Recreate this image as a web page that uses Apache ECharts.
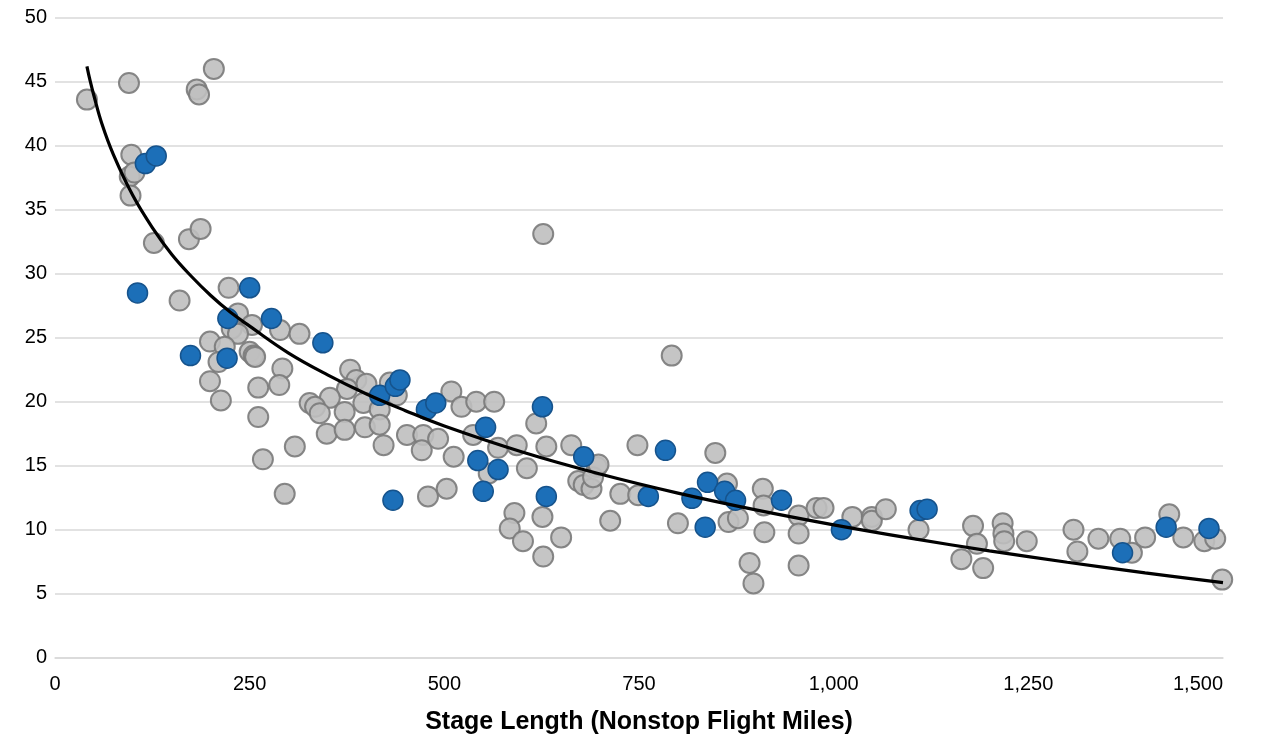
<!DOCTYPE html>
<html>
<head>
<meta charset="utf-8">
<script src="https://cdn.jsdelivr.net/npm/echarts@6/dist/echarts.min.js"></script>
<style>
html,body{margin:0;padding:0;background:#fff;}
#chart{width:1264px;height:738px;}
</style>
</head>
<body>
<div id="chart"></div>
<script>
// Other routes (gray)
const otherRoutes = [
[41,43.6],[95,44.9],[204,46.0],[182,44.4],[185,44.0],
[98,39.3],[96,37.6],[102,37.9],[97,36.1],
[127,32.4],[172,32.7],[187,33.5],
[160,27.9],[223,28.9],[235,26.9],[253,26.0],[289,25.6],[314,25.3],
[199,24.7],[227,25.7],[235,25.3],[218,24.3],[210,23.1],[250,23.9],[255,23.6],[257,23.5],
[199,21.6],[213,20.1],[292,22.6],[261,21.1],[288,21.3],[261,18.8],[308,16.5],[267,15.5],[295,12.8],
[379,22.5],[387,21.7],[400,21.4],[375,21.0],[430,21.5],[439,20.5],[353,20.3],
[327,19.9],[334,19.6],[340,19.1],[372,19.2],[396,19.9],[417,19.4],
[349,17.5],[372,17.8],[398,18.0],[417,18.2],[422,16.6],[452,17.4],
[473,17.4],[471,16.2],[492,17.1],[509,20.8],[522,19.6],[541,20.0],[564,20.0],
[512,15.7],[479,12.6],[503,13.2],[537,17.4],[569,16.4],[557,14.4],
[593,16.6],[606,14.8],[618,18.3],[631,16.5],[627,33.1],
[590,11.3],[584,10.1],[601,9.1],[626,11.0],[650,9.4],[627,7.9],
[663,16.6],[672,13.8],[679,13.5],[689,13.2],[696,14.9],[691,14.1],[698,15.1],
[713,10.7],[792,23.6],[748,16.6],[726,12.8],[749,12.7],
[848,16.0],[863,13.6],[800,10.5],[865,10.6],[877,10.9],
[909,13.2],[910,11.9],[911,9.8],[955,11.1],[955,9.7],[892,7.4],[897,5.8],[955,7.2],
[978,11.7],[987,11.7],[1024,11.0],[1049,11.0],[1049,10.7],[1067,11.6],[1109,10.0],
[1179,10.3],[1184,8.9],[1164,7.7],[1192,7.0],[1217,10.5],[1218,9.7],[1219,9.1],[1248,9.1],
[1308,10.0],[1313,8.3],[1340,9.3],[1368,9.3],[1383,8.2],[1400,9.4],[1431,11.2],[1449,9.4],[1476,9.1],[1490,9.3],[1499,6.1]
];

// Highlighted routes (blue)
const highlightRoutes = [
[116,38.6],[130,39.2],[106,28.5],[250,28.9],[222,26.5],[278,26.5],[344,24.6],[174,23.6],[221,23.4],
[417,20.5],[437,21.2],[443,21.7],[434,12.3],[477,19.4],[489,19.9],[553,18.0],[543,15.4],[569,14.7],[550,13.0],
[626,19.6],[631,12.6],[679,15.7],[784,16.2],[762,12.6],[838,13.7],[860,13.0],[874,12.3],[818,12.45],[835,10.2],[933,12.3],
[1010,10.0],[1111,11.5],[1120,11.6],[1371,8.2],[1427,10.2],[1482,10.1]
];

// Trend line
const trendX = [41,45,50,60,75,100,125,150,175,200,225,250,300,350,400,450,500,600,700,800,900,1000,1100,1200,1300,1400,1500];
const trendY = [46.2,45.1,43.9,41.75,39.3,36.1,33.6,31.5,29.8,28.3,27.0,25.9,23.8,22.1,20.6,19.3,18.1,16.07,14.35,12.86,11.55,10.38,9.32,8.35,7.46,6.63,5.86];

const xTicks = {min:0, max:1500, interval:250};
const yTicks = {min:0, max:50, interval:5};
const xTitle = 'Stage Length (Nonstop Flight Miles)';

const chart = echarts.init(document.getElementById('chart'), null, {renderer:'canvas'});
const font = 'Liberation Sans, Arial, sans-serif';
chart.setOption({
  animation:false,
  backgroundColor:'#ffffff',
  grid:{left:55,right:41,top:17.7,bottom:80.3,containLabel:false,outerBoundsMode:'none'},
  xAxis:{
    type:'value', min:xTicks.min, max:xTicks.max, interval:xTicks.interval,
    name:xTitle, nameLocation:'middle', nameGap:52,
    nameTextStyle:{fontFamily:font,fontSize:25,fontWeight:'bold',color:'#000'},
    axisLine:{show:true,lineStyle:{color:'#d9d9d9',width:1.5}},
    axisTick:{show:false},
    splitLine:{show:false},
    axisLabel:{fontFamily:font,fontSize:20,color:'#000',margin:17,alignMaxLabel:'right',
      formatter:v=>v.toLocaleString('en-US')}
  },
  yAxis:{
    type:'value', min:yTicks.min, max:yTicks.max, interval:yTicks.interval,
    axisLine:{show:false}, axisTick:{show:false},
    splitLine:{show:true,lineStyle:{color:'#d9d9d9',width:1.5}},
    axisLabel:{fontFamily:font,fontSize:20,color:'#000',margin:8}
  },
  series:[
    {type:'scatter',data:otherRoutes,symbol:'circle',symbolSize:20,z:2,
     itemStyle:{color:'#bfbfbf',borderColor:'#7a7a7a',borderWidth:2,opacity:0.9}},
    {type:'scatter',data:highlightRoutes,symbol:'circle',symbolSize:20,z:3,
     itemStyle:{color:'#1c6fb8',borderColor:'#16538c',borderWidth:1.5,opacity:1}},
    {type:'line',data:trendX.map((x,i)=>[x,trendY[i]]),smooth:0.4,showSymbol:false,symbol:'none',z:4,
     lineStyle:{color:'#000',width:3.2}}
  ]
});
</script>
</body>
</html>
